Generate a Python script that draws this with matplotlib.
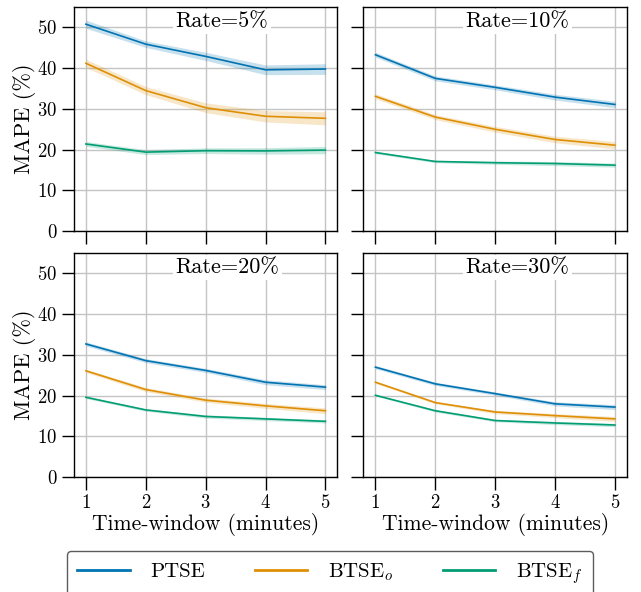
import matplotlib
matplotlib.use("Agg")
import matplotlib.pyplot as plt

plt.rcParams["font.family"] = "serif"
plt.rcParams["font.serif"] = ["cmr10"]
plt.rcParams["mathtext.fontset"] = "cm"
plt.rcParams["axes.formatter.use_mathtext"] = True
plt.rcParams["axes.unicode_minus"] = False

# time window in minutes
windows = [1, 2, 3, 4, 5]
rates = ["5", "10", "20", "30"]
methods = ["PTSE", r"BTSE$_o$", r"BTSE$_f$"]
colors = ["#0173b2", "#de8f05", "#029e73"]

# mean MAPE per rate, order: PTSE, BTSE_o, BTSE_f
mape_5 = [[50.8, 45.9, 42.9, 39.6, 39.8],
          [41.2, 34.5, 30.3, 28.2, 27.7],
          [21.4, 19.4, 19.75, 19.7, 19.9]]
mape_10 = [[43.3, 37.5, 35.3, 32.9, 31.1],
           [33.1, 28.0, 25.0, 22.5, 21.1],
           [19.3, 17.1, 16.8, 16.6, 16.2]]
mape_20 = [[32.7, 28.6, 26.2, 23.3, 22.1],
           [26.1, 21.5, 18.9, 17.5, 16.3],
           [19.6, 16.5, 14.9, 14.3, 13.7]]
mape_30 = [[27.0, 22.9, 20.5, 18.0, 17.2],
           [23.3, 18.3, 16.0, 15.1, 14.3],
           [20.1, 16.3, 13.9, 13.3, 12.8]]

# half width of the confidence band
ci_5 = [[1.0, 0.8, 1.0, 1.2, 1.3],
        [1.0, 1.0, 1.2, 1.4, 1.6],
        [0.6, 0.6, 0.7, 0.8, 0.9]]
ci_10 = [[0.6, 0.6, 0.6, 0.7, 0.8],
         [0.6, 0.6, 0.7, 0.8, 0.9],
         [0.3, 0.3, 0.4, 0.5, 0.5]]
ci_20 = [[0.5, 0.5, 0.5, 0.6, 0.6],
         [0.4, 0.5, 0.5, 0.6, 0.7],
         [0.3, 0.3, 0.4, 0.4, 0.4]]
ci_30 = [[0.4, 0.4, 0.4, 0.5, 0.6],
         [0.3, 0.3, 0.4, 0.5, 0.6],
         [0.2, 0.3, 0.3, 0.4, 0.4]]

all_mape = [mape_5, mape_10, mape_20, mape_30]
all_ci = [ci_5, ci_10, ci_20, ci_30]

fig, axes = plt.subplots(2, 2, figsize=(6.41, 5.92), dpi=100, sharex=True, sharey=True)
fig.subplots_adjust(left=0.1154, right=0.978, top=0.988, bottom=0.194,
                    wspace=0.099, hspace=0.098)

for k, ax in enumerate(axes.flat):
    for m in range(3):
        y = all_mape[k][m]
        c = all_ci[k][m]
        lo = [a - b for a, b in zip(y, c)]
        hi = [a + b for a, b in zip(y, c)]
        ax.fill_between(windows, lo, hi, color=colors[m], alpha=0.22, lw=0)
        ax.plot(windows, y, color=colors[m], lw=1.2, label=methods[m])

    ax.set_xlim(0.8, 5.2)
    ax.set_ylim(0, 55)
    ax.set_xticks(windows)
    ax.set_yticks([0, 10, 20, 30, 40, 50])
    ax.grid(True, color="#c4c4c4", lw=1.0)
    ax.set_axisbelow(True)
    ax.tick_params(direction="out", length=9, width=1.0, labelsize=13.5, pad=3)
    for s in ax.spines.values():
        s.set_linewidth(1.0)
    ax.text(2.5, 50, "Rate=" + rates[k] + "%", fontsize=16, ha="left", va="baseline",
            bbox=dict(facecolor="white", edgecolor="none", pad=2))

for ax in axes[:, 0]:
    ax.set_ylabel("MAPE (%)", fontsize=16, labelpad=1)
for ax in axes[1, :]:
    ax.set_xlabel("Time-window (minutes)", fontsize=15.5, labelpad=1)

handles, labels = axes[0, 0].get_legend_handles_labels()
leg = fig.legend(handles, labels, loc="upper center", bbox_to_anchor=(0.515, 0.07),
                 ncol=3, fontsize=15, handlelength=2.5, handletextpad=1.0,
                 columnspacing=2.4, frameon=True, fancybox=True, borderpad=0.5,
                 borderaxespad=0)
leg.get_frame().set_edgecolor("#333333")
leg.get_frame().set_linewidth(1.0)
for line in leg.get_lines():
    line.set_linewidth(2.0)

fig.savefig("out.png", dpi=100)
